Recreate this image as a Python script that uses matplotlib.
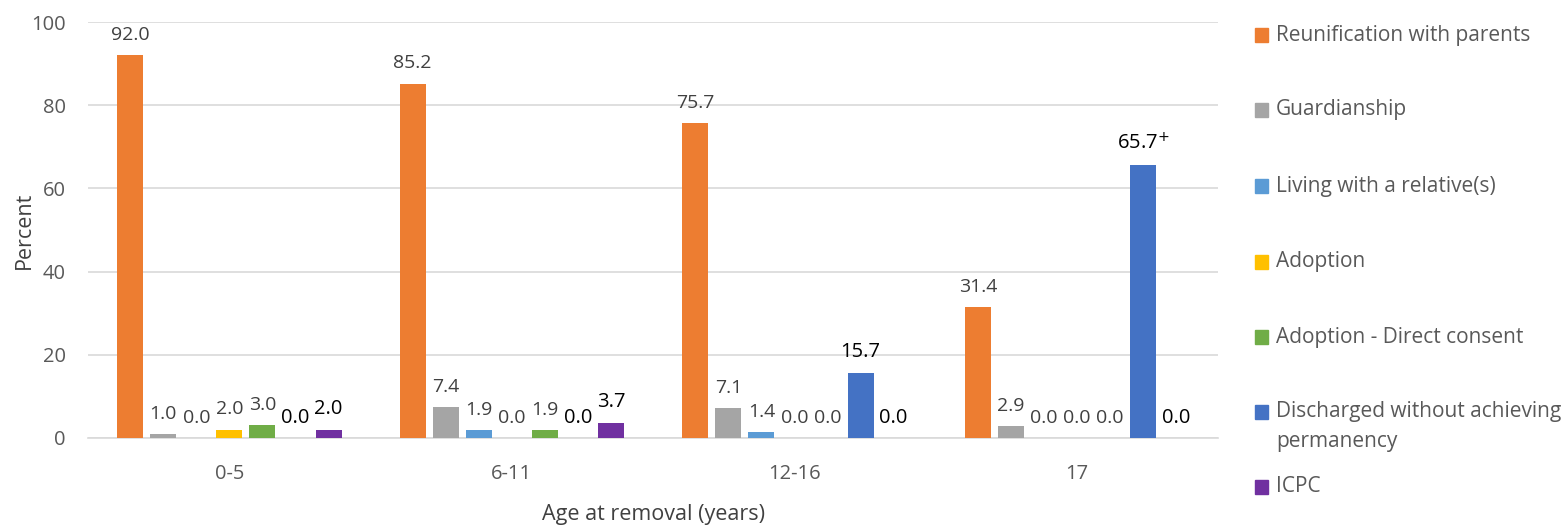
import numpy as np
import matplotlib.pyplot as plt
from matplotlib.patches import Rectangle

# age groups at removal and the discharge outcome shares (percent)
age_groups = ['0-5', '6-11', '12-16', '17']
series_names = ['Reunification with parents', 'Guardianship',
                'Living with a relative(s)', 'Adoption',
                'Adoption - Direct consent',
                'Discharged without achieving\npermanency', 'ICPC']
reunification = [92.0, 85.2, 75.7, 31.4]
guardianship = [1.0, 7.4, 7.1, 2.9]
relative = [0.0, 1.9, 1.4, 0.0]
adoption = [2.0, 0.0, 0.0, 0.0]
adoption_direct = [3.0, 1.9, 0.0, 0.0]
discharged = [0.0, 0.0, 15.7, 65.7]
icpc = [2.0, 3.7, 0.0, 0.0]
flagged = [(5, 3)]  # (series, group) pairs that carry a "+" mark

values = [reunification, guardianship, relative, adoption,
          adoption_direct, discharged, icpc]
colors = ['#ED7D31', '#A5A5A5', '#5B9BD5', '#FFC000',
          '#70AD47', '#4472C4', '#7030A0']

plt.rcParams['font.family'] = ['Open Sans', 'DejaVu Sans']

fig = plt.figure(figsize=(15.64, 5.27), dpi=100)
ax = fig.add_axes([0.0563, 0.169, 0.7227, 0.789])

x = np.arange(len(age_groups))
pitch = 0.117
width = 0.092
for i, (vals, c) in enumerate(zip(values, colors)):
    pos = x + (i - 3) * pitch
    ax.bar(pos, vals, width=width, color=c, zorder=3)
    dark = i >= 5  # last two series get black labels
    for j, (p, v) in enumerate(zip(pos, vals)):
        txt = '{:.1f}'.format(v)
        if (i, j) in flagged:
            txt += '$^{+}$'
        ax.annotate(txt, (p, v), xytext=(0, 11), textcoords='offset points',
                    ha='center', va='baseline',
                    fontsize=14.5 if dark else 14,
                    color='black' if dark else '#404040', zorder=4)

ax.set_xlim(-0.5, len(age_groups) - 0.5)
ax.set_ylim(0, 100)
ax.set_yticks(range(0, 101, 20))
ax.set_xticks(x)
ax.set_xticklabels(age_groups)
ax.yaxis.grid(True, color='#D9D9D9', linewidth=1.2, zorder=0)
for s in ['top', 'right', 'left']:
    ax.spines[s].set_visible(False)
ax.spines['bottom'].set_color('#D9D9D9')
ax.spines['bottom'].set_linewidth(1.2)
ax.tick_params(axis='both', length=0, labelsize=14.5, colors='#595959')
ax.tick_params(axis='x', pad=19)
ax.tick_params(axis='y', pad=16)
ax.set_ylabel('Percent', fontsize=15.5, color='#404040', labelpad=-3)
ax.set_xlabel('Age at removal (years)', fontsize=15.5, color='#404040', labelpad=14)

# legend down the right side, one entry per outcome
W, H = fig.get_size_inches() * fig.dpi
rows_px = [35, 110, 186, 262, 337, 412, 487]
for name, c, ypx in zip(series_names, colors, rows_px):
    fig.patches.append(Rectangle((1255 / W, 1 - (ypx + 7) / H), 13 / W, 14 / H,
                                 transform=fig.transFigure, color=c))
    for k, line in enumerate(name.split('\n')):
        fig.text(1276 / W, 1 - (ypx + 29 * k) / H, line,
                 fontsize=15, color='#595959', va='center')

fig.savefig('out.png', dpi=100)
